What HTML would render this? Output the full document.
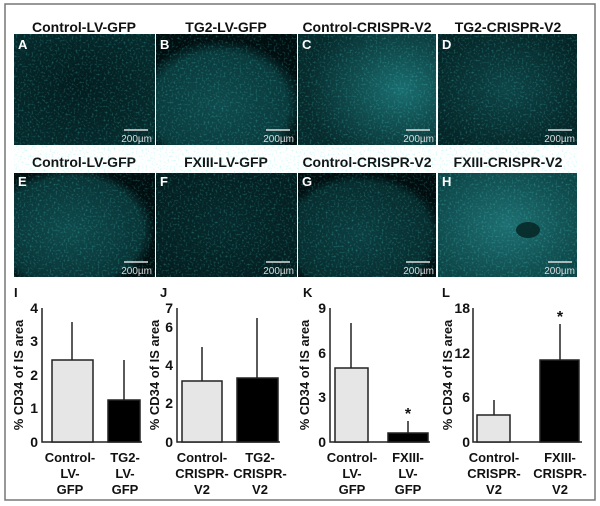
<!DOCTYPE html>
<html><head><meta charset="utf-8"><style>
html,body{margin:0;padding:0;background:#fff;}
svg{display:block;}
text{font-family:"Liberation Sans",Arial,sans-serif;font-weight:bold;}
</style></head><body>
<svg width="600" height="506" viewBox="0 0 600 506" xmlns="http://www.w3.org/2000/svg">
<defs>
<filter id="spk" x="0" y="0" width="100%" height="100%">
<feTurbulence type="fractalNoise" baseFrequency="0.5" numOctaves="2" seed="3" result="n"/>
<feColorMatrix in="n" type="matrix" values="0 0 0 0 0.1  0 0 0 0 0.8  0 0 0 0 0.8  2 0 0 0 -1.05"/>
</filter>
<radialGradient id="gA" cx="0.45" cy="0.45" r="0.6"><stop offset="0" stop-color="#031c1e"/><stop offset="1" stop-color="#062a2c"/></radialGradient>
<radialGradient id="gB" cx="0.45" cy="0.65" r="0.6"><stop offset="0" stop-color="#0f4a4c"/><stop offset="0.8" stop-color="#0a3a3c"/><stop offset="1" stop-color="#010e10"/></radialGradient>
<radialGradient id="gC" cx="0.75" cy="0.5" r="0.7"><stop offset="0" stop-color="#1a6c6e"/><stop offset="1" stop-color="#072a2c"/></radialGradient>
<radialGradient id="gD" cx="0.5" cy="0.5" r="0.6"><stop offset="0" stop-color="#0e4446"/><stop offset="1" stop-color="#052426"/></radialGradient>
<radialGradient id="gE" cx="0.4" cy="0.55" r="0.6"><stop offset="0" stop-color="#0f4a4c"/><stop offset="0.85" stop-color="#093436"/><stop offset="1" stop-color="#010e10"/></radialGradient>
<radialGradient id="gF" cx="0.5" cy="0.5" r="0.6"><stop offset="0" stop-color="#062a2c"/><stop offset="1" stop-color="#041e20"/></radialGradient>
<radialGradient id="gG" cx="0.45" cy="0.6" r="0.6"><stop offset="0" stop-color="#0c3e40"/><stop offset="0.85" stop-color="#072c2e"/><stop offset="1" stop-color="#010c0e"/></radialGradient>
<radialGradient id="gH" cx="0.5" cy="0.5" r="0.6"><stop offset="0" stop-color="#1e6e70"/><stop offset="1" stop-color="#0e4648"/></radialGradient>
</defs>
<rect x="5" y="4" width="590" height="496" fill="#fff" stroke="#777" stroke-width="1.5"/>

<g font-size="14" text-anchor="middle" fill="#111">
<text x="84" y="32">Control-LV-GFP</text>
<text x="226" y="32">TG2-LV-GFP</text>
<text x="367" y="32">Control-CRISPR-V2</text>
<text x="508" y="32">TG2-CRISPR-V2</text>
<text x="84" y="167">Control-LV-GFP</text>
<text x="226" y="167">FXIII-LV-GFP</text>
<text x="367" y="167">Control-CRISPR-V2</text>
<text x="508" y="167">FXIII-CRISPR-V2</text>
</g>

<g>
<rect x="14" y="34" width="141" height="111" fill="url(#gA)"/>
<rect x="156" y="34" width="141" height="111" fill="url(#gB)"/>
<rect x="298" y="34" width="138" height="111" fill="url(#gC)"/>
<rect x="438" y="34" width="139" height="111" fill="url(#gD)"/>
<rect x="14" y="173" width="141" height="104" fill="url(#gE)"/>
<rect x="156" y="173" width="141" height="104" fill="url(#gF)"/>
<rect x="298" y="173" width="138" height="104" fill="url(#gG)"/>
<rect x="438" y="173" width="139" height="104" fill="url(#gH)"/>
<g filter="url(#spk)" opacity="0.45">
<rect x="14" y="34" width="563" height="111" fill="#000"/>
<rect x="14" y="173" width="563" height="104" fill="#000"/>
</g>
<ellipse cx="528" cy="230" rx="12" ry="8" fill="#04201f" opacity="0.8"/>
</g>
<g font-size="13" fill="#fff">
<text x="18" y="49">A</text><text x="160" y="49">B</text><text x="302" y="49">C</text><text x="442" y="49">D</text>
<text x="18" y="186">E</text><text x="160" y="186">F</text><text x="302" y="186">G</text><text x="442" y="186">H</text>
</g>
<g stroke="#ddd" stroke-width="1.5">
<line x1="124" y1="130" x2="148" y2="130"/><line x1="266" y1="130" x2="290" y2="130"/><line x1="406" y1="130" x2="430" y2="130"/><line x1="548" y1="130" x2="572" y2="130"/>
<line x1="124" y1="262" x2="148" y2="262"/><line x1="266" y1="262" x2="290" y2="262"/><line x1="406" y1="262" x2="430" y2="262"/><line x1="548" y1="262" x2="572" y2="262"/>
</g>
<g font-size="10" fill="#ddd" text-anchor="end">
<text x="152" y="142" font-weight="normal" style="font-weight:normal">200µm</text><text x="294" y="142" style="font-weight:normal">200µm</text><text x="434" y="142" style="font-weight:normal">200µm</text><text x="575" y="142" style="font-weight:normal">200µm</text>
<text x="152" y="274" style="font-weight:normal">200µm</text><text x="294" y="274" style="font-weight:normal">200µm</text><text x="434" y="274" style="font-weight:normal">200µm</text><text x="575" y="274" style="font-weight:normal">200µm</text>
</g>

<g stroke="#222" stroke-width="1.5" fill="none">
<polyline points="42,308 42,442 142,442"/>
<line x1="72" y1="360" x2="72" y2="322"/>
<line x1="124" y1="400" x2="124" y2="360"/>
<polyline points="177,308 177,442 280,442"/>
<line x1="202" y1="381" x2="202" y2="347"/>
<line x1="257" y1="378" x2="257" y2="318"/>
<polyline points="330,308 330,442 430,442"/>
<line x1="351" y1="368" x2="351" y2="323"/>
<line x1="408" y1="433" x2="408" y2="421"/>
<polyline points="473,308 473,442 582,442"/>
<line x1="494" y1="415" x2="494" y2="400"/>
<line x1="560" y1="360" x2="560" y2="324"/>
</g>
<g stroke="#222" stroke-width="1.5">
<rect x="52" y="360" width="41" height="82" fill="#e6e6e6"/>
<rect x="108" y="400" width="32" height="42" fill="#000"/>
<rect x="182" y="381" width="40" height="61" fill="#e6e6e6"/>
<rect x="237" y="378" width="41" height="64" fill="#000"/>
<rect x="335" y="368" width="33" height="74" fill="#e6e6e6"/>
<rect x="388" y="433" width="40" height="9" fill="#000"/>
<rect x="477" y="415" width="33" height="27" fill="#e6e6e6"/>
<rect x="540" y="360" width="39" height="82" fill="#000"/>
</g>
<g font-size="14" fill="#111" text-anchor="end">
<text x="38" y="313">4</text><text x="38" y="380">2</text><text x="38" y="346">3</text><text x="38" y="413">1</text><text x="38" y="447">0</text>
<text x="173" y="313">7</text><text x="173" y="332">6</text><text x="173" y="370">4</text><text x="173" y="408">2</text><text x="173" y="447">0</text>
<text x="326" y="313">9</text><text x="326" y="358">6</text><text x="326" y="402">3</text><text x="326" y="447">0</text>
<text x="470" y="313">18</text><text x="470" y="358">12</text><text x="470" y="402">6</text><text x="470" y="447">0</text>
</g>
<g font-size="13" fill="#111">
<text x="14" y="297">I</text><text x="160" y="297">J</text><text x="303" y="297">K</text><text x="442" y="297">L</text>
</g>
<g font-size="16" fill="#111" text-anchor="middle">
<text x="408" y="419">*</text><text x="560" y="322">*</text>
</g>
<g font-size="13" fill="#111" text-anchor="middle">
<text transform="translate(23,375) rotate(-90)">% CD34 of IS area</text>
<text transform="translate(159,375) rotate(-90)">% CD34 of IS area</text>
<text transform="translate(309,375) rotate(-90)">% CD34 of IS area</text>
<text transform="translate(452,375) rotate(-90)">% CD34 of IS area</text>
</g>
<g font-size="13" fill="#111" text-anchor="middle">
<text x="70" y="462">Control-</text><text x="70" y="478">LV-</text><text x="70" y="494">GFP</text>
<text x="125" y="462">TG2-</text><text x="125" y="478">LV-</text><text x="125" y="494">GFP</text>
<text x="202" y="462">Control-</text><text x="202" y="478">CRISPR-</text><text x="202" y="494">V2</text>
<text x="260" y="462">TG2-</text><text x="260" y="478">CRISPR-</text><text x="260" y="494">V2</text>
<text x="352" y="462">Control-</text><text x="352" y="478">LV-</text><text x="352" y="494">GFP</text>
<text x="408" y="462">FXIII-</text><text x="408" y="478">LV-</text><text x="408" y="494">GFP</text>
<text x="494" y="462">Control-</text><text x="494" y="478">CRISPR-</text><text x="494" y="494">V2</text>
<text x="560" y="462">FXIII-</text><text x="560" y="478">CRISPR-</text><text x="560" y="494">V2</text>
</g>
</svg>
</body></html>
